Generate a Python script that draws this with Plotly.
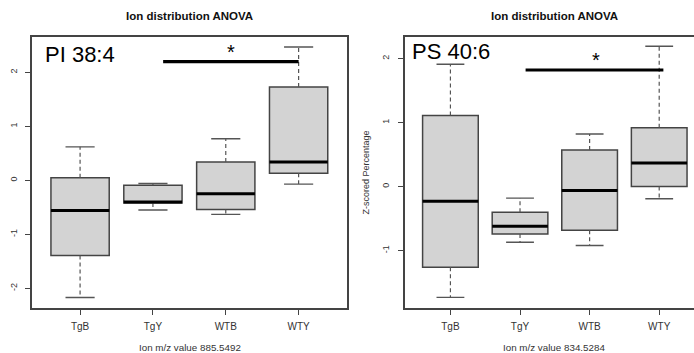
import plotly.graph_objects as go

W, H = 694, 353

categories = ["TgB", "TgY", "WTB", "WTY"]

# Left panel: PI 38:4 (ion m/z 885.5492)
left_lower = [-2.17, -0.55, -0.63, -0.07]
left_q1 = [-1.39, -0.42, -0.54, 0.13]
left_median = [-0.56, -0.40, -0.25, 0.34]
left_q3 = [0.05, -0.09, 0.34, 1.73]
left_upper = [0.62, -0.06, 0.77, 2.47]
left_sig_x = [1.14, 3.0]
left_sig_y = [2.2, 2.2]

# Right panel: PS 40:6 (ion m/z 834.5284)
right_lower = [-1.73, -0.87, -0.92, -0.19]
right_q1 = [-1.26, -0.74, -0.68, 0.0]
right_median = [-0.23, -0.62, -0.06, 0.37]
right_q3 = [1.11, -0.40, 0.57, 0.92]
right_upper = [1.91, -0.18, 0.82, 2.19]
right_sig_x = [1.08, 3.06]
right_sig_y = [1.82, 1.82]

left_yticks = [-2, -1, 0, 1, 2]
right_yticks = [-1, 0, 1, 2]

FONT = "Liberation Sans"
AX = "#444444"
BOXW = 0.8
CAPW = 0.4

fig = go.Figure()


def add_panel(xa, ya, lower, q1, med, q3, upper, sig_x, sig_y):
    xs = list(range(len(categories)))
    fig.add_trace(go.Box(
        x=xs, q1=q1, median=med, q3=q3,
        lowerfence=q1, upperfence=q3, width=BOXW, whiskerwidth=0,
        fillcolor="#d3d3d3", line=dict(color=AX, width=1.5),
        boxpoints=False, xaxis=xa, yaxis=ya, showlegend=False, hoverinfo="skip"))
    # dashed whiskers
    wx, wy = [], []
    for i in xs:
        wx += [i, i, None, i, i, None]
        wy += [q3[i], upper[i], None, q1[i], lower[i], None]
    fig.add_trace(go.Scatter(x=wx, y=wy, mode="lines", xaxis=xa, yaxis=ya,
                             line=dict(color="#555555", width=1.2, dash="4px,3px"),
                             showlegend=False, hoverinfo="skip"))
    # caps
    cx, cy = [], []
    for i in xs:
        cx += [i - CAPW / 2, i + CAPW / 2, None, i - CAPW / 2, i + CAPW / 2, None]
        cy += [upper[i], upper[i], None, lower[i], lower[i], None]
    fig.add_trace(go.Scatter(x=cx, y=cy, mode="lines", xaxis=xa, yaxis=ya,
                             line=dict(color="#555555", width=1.4),
                             showlegend=False, hoverinfo="skip"))
    # thick medians
    mx, my = [], []
    for i in xs:
        mx += [i - BOXW / 2, i + BOXW / 2, None]
        my += [med[i], med[i], None]
    fig.add_trace(go.Scatter(x=mx, y=my, mode="lines", xaxis=xa, yaxis=ya,
                             line=dict(color="black", width=3),
                             showlegend=False, hoverinfo="skip"))
    # significance bar
    fig.add_trace(go.Scatter(x=sig_x, y=sig_y, mode="lines", xaxis=xa, yaxis=ya,
                             line=dict(color="black", width=3.2),
                             showlegend=False, hoverinfo="skip"))


add_panel("x", "y", left_lower, left_q1, left_median, left_q3, left_upper,
          left_sig_x, left_sig_y)
add_panel("x2", "y2", right_lower, right_q1, right_median, right_q3, right_upper,
          right_sig_x, right_sig_y)

ydom = [(H - 308.3) / H, (H - 36.7) / H]

common_x = dict(tickvals=list(range(len(categories))), ticktext=categories,
                showline=True, linecolor=AX, linewidth=1.5, mirror=True,
                ticks="outside", ticklen=5, tickcolor=AX, tickwidth=1.2,
                showgrid=False, zeroline=False, ticklabelstandoff=3,
                tickfont=dict(family=FONT, size=10, color="#333333"))
common_y = dict(showline=True, linecolor=AX, linewidth=1.5,
                ticks="outside", ticklen=5, tickcolor=AX, tickwidth=1.2,
                showgrid=False, zeroline=False, tickangle=-90,
                ticklabelstandoff=5,
                tickfont=dict(family=FONT, size=9, color="#333333"),
                domain=ydom)

fig.update_layout(
    width=W, height=H, margin=dict(l=0, r=0, t=0, b=0),
    paper_bgcolor="white", plot_bgcolor="white",
    xaxis=dict(common_x, domain=[32 / W, 346.7 / W], range=[-0.66, 3.66], anchor="y"),
    yaxis=dict(common_y, range=[-2.37, 2.66], tickvals=left_yticks,
               ticktext=[str(v) for v in left_yticks], mirror=True, anchor="x"),
    xaxis2=dict(common_x, domain=[404.5 / W, 1.0], range=[-0.66, 3.50], anchor="y2"),
    yaxis2=dict(common_y, range=[-1.90, 2.34], tickvals=right_yticks,
                ticktext=[str(v) for v in right_yticks], mirror=False, anchor="x2"),
)

# Titles and axis labels
ann = []
for cx, xlabel in [(189.5, "Ion m/z value 885.5492"), (554, "Ion m/z value 834.5284")]:
    ann.append(dict(x=cx / W, y=1 - 16 / H, xref="paper", yref="paper",
                    text="<b>Ion distribution ANOVA</b>", showarrow=False,
                    font=dict(family=FONT, size=11.5, color="#111111"),
                    xanchor="center", yanchor="middle"))
    ann.append(dict(x=cx / W, y=1 - 347.5 / H, xref="paper", yref="paper",
                    text=xlabel, showarrow=False,
                    font=dict(family=FONT, size=9.8, color="#333333"),
                    xanchor="center", yanchor="middle"))
ann.append(dict(x=365 / W, y=1 - 172.5 / H, xref="paper", yref="paper",
                text="Z-scored Percentage", textangle=-90, showarrow=False,
                font=dict(family=FONT, size=9, color="#333333"),
                xanchor="center", yanchor="middle"))
# panel labels
ann.append(dict(x=43 / W, y=1 - 55 / H, xref="paper", yref="paper",
                text="PI 38:4", showarrow=False, xanchor="left", yanchor="middle",
                font=dict(family=FONT, size=22, color="black")))
ann.append(dict(x=410 / W, y=1 - 52 / H, xref="paper", yref="paper",
                text="PS 40:6", showarrow=False, xanchor="left", yanchor="middle",
                font=dict(family=FONT, size=22, color="black")))
# significance asterisks
ann.append(dict(x=2.07, y=2.38, xref="x", yref="y", text="*", showarrow=False,
                font=dict(family=FONT, size=20, color="black"),
                xanchor="center", yanchor="middle"))
ann.append(dict(x=2.09, y=1.98, xref="x2", yref="y2", text="*", showarrow=False,
                font=dict(family=FONT, size=20, color="black"),
                xanchor="center", yanchor="middle"))
fig.update_layout(annotations=ann)

fig.write_html("out.html", config={"displayModeBar": False},
               post_script="document.body.style.margin='0';document.body.style.overflow='hidden';")
